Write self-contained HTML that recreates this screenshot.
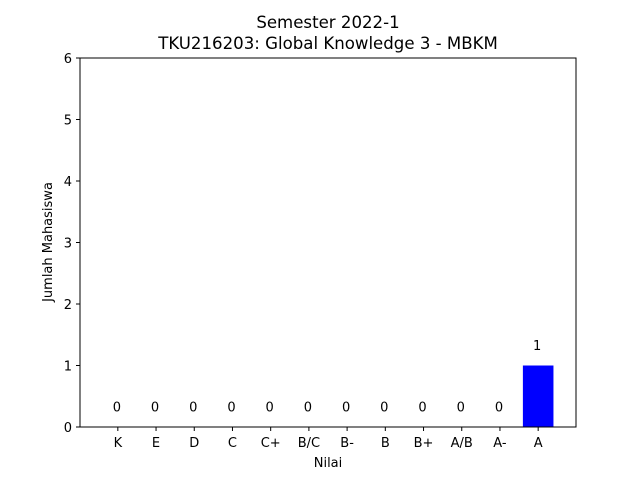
<!DOCTYPE html>
<html><head><meta charset="utf-8"><style>
body{margin:0;background:#fff;}
svg text{font-family:"DejaVu Sans","Liberation Sans",sans-serif;}
</style></head><body>
<svg id="chart" width="640" height="480" xmlns="http://www.w3.org/2000/svg">
<rect width="640" height="480" fill="#fff"/>
<text x="328" y="28" text-anchor="middle" font-size="16.6">Semester 2022-1</text>
<text x="328" y="49" text-anchor="middle" font-size="16.6">TKU216203: Global Knowledge 3 - MBKM</text>
<g id="bars"></g>
<g id="labels"></g>
<g id="xticks"></g>
<g id="yticks"></g>
<rect x="80" y="58" width="496" height="369" fill="none" stroke="#000" stroke-width="1"/>
<text x="328" y="467" text-anchor="middle" font-size="13">Nilai</text>
<text transform="translate(52,242) rotate(-90)" text-anchor="middle" font-size="13">Jumlah Mahasiswa</text>
</svg>
<script>
const categories=["K","E","D","C","C+","B/C","B-","B","B+","A/B","A-","A"];
const counts=[0,0,0,0,0,0,0,0,0,0,0,1];
const yTicks=[0,1,2,3,4,5,6];
const NS="http://www.w3.org/2000/svg";
const L=80,R=576,T=58,B=427,xmin=-0.99,xmax=11.99,ymin=0,ymax=6;
const sx=v=>L+(v-xmin)/(xmax-xmin)*(R-L);
const sy=v=>B-(v-ymin)/(ymax-ymin)*(B-T);
function mk(tag,attrs,parent){const e=document.createElementNS(NS,tag);for(const k in attrs)e.setAttribute(k,attrs[k]);document.getElementById(parent).appendChild(e);return e;}
categories.forEach((c,i)=>{
  const v=counts[i];
  const r=mk("rect",{x:sx(i-0.4),y:sy(v),width:sx(i+0.4)-sx(i-0.4),height:sy(0)-sy(v),fill:"#0000ff"},"bars");
  
  
  const t=mk("text",{x:sx(i)-1,y:sy(v+0.25),"text-anchor":"middle","font-size":"13"},"labels");
  t.textContent=v;
  
  
  const tk=mk("line",{x1:sx(i),x2:sx(i),y1:B,y2:B+4,stroke:"#000"},"xticks");
  
  
  const tl=mk("text",{x:sx(i),y:B+20,"text-anchor":"middle","font-size":"13"},"xticks");
  tl.textContent=c;
  
  
});
yTicks.forEach(v=>{
  const tk=mk("line",{x1:L-4,x2:L,y1:sy(v),y2:sy(v),stroke:"#000"},"yticks");
  
  
  const tl=mk("text",{x:L-8,y:sy(v)+5,"text-anchor":"end","font-size":"13"},"yticks");
  tl.textContent=v;
  
  
});
</script>
</body></html>
